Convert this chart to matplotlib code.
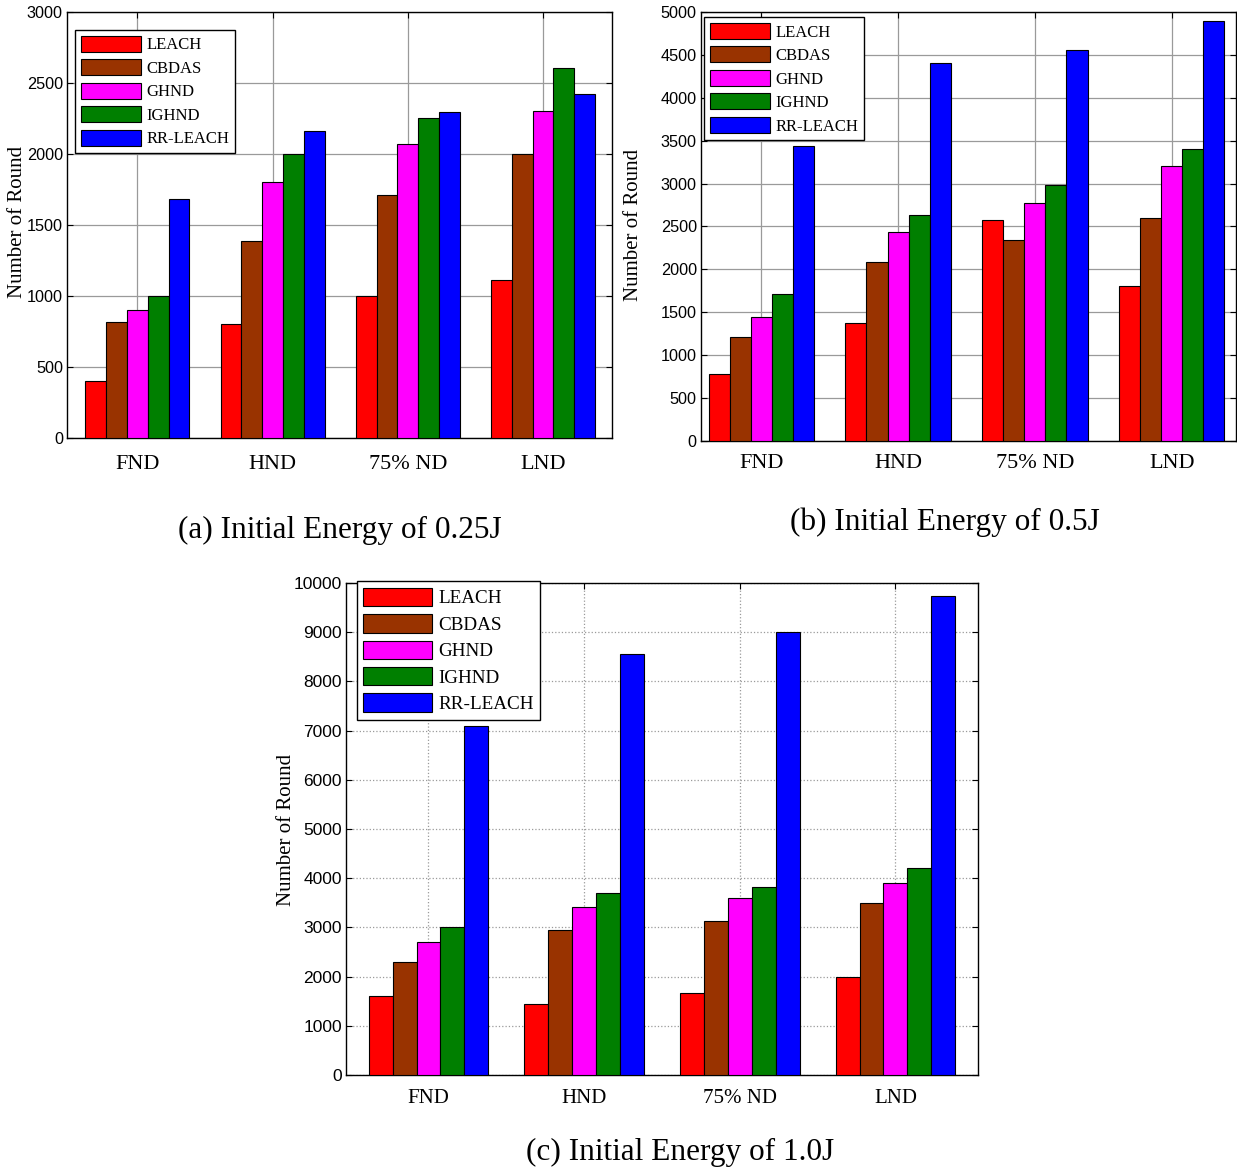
import numpy as np
import matplotlib
matplotlib.use('Agg')
import matplotlib.pyplot as plt

plt.rcParams['font.family'] = ['Liberation Serif', 'DejaVu Serif']

methods = ['LEACH', 'CBDAS', 'GHND', 'IGHND', 'RR-LEACH']
stages = ['FND', 'HND', '75% ND', 'LND']
colors = ['#ff0000', '#993300', '#ff00ff', '#007f00', '#0000ff']

# (a) initial energy 0.25J
leach_a = [400, 805, 1000, 1110]
cbdas_a = [815, 1385, 1710, 2000]
ghnd_a = [900, 1805, 2070, 2305]
ighnd_a = [1000, 2000, 2255, 2605]
rrleach_a = [1680, 2165, 2295, 2420]

# (b) initial energy 0.5J
leach_b = [785, 1375, 2575, 1810]
cbdas_b = [1210, 2090, 2340, 2600]
ghnd_b = [1445, 2440, 2775, 3200]
ighnd_b = [1710, 2630, 2980, 3400]
rrleach_b = [3435, 4400, 4560, 4900]

# (c) initial energy 1.0J
leach_c = [1600, 1450, 1660, 2000]
cbdas_c = [2300, 2950, 3130, 3500]
ghnd_c = [2700, 3420, 3600, 3910]
ighnd_c = [3000, 3700, 3820, 4200]
rrleach_c = [7100, 8560, 9000, 9740]


def draw_panel(ax, series, ymax, ystep, xlim, grid_ls, fs):
    x = np.arange(1, len(stages) + 1)
    w = 0.154
    for k, vals in enumerate(series):
        ax.bar(x + (k - 2) * w, vals, w, color=colors[k], edgecolor='black',
               linewidth=0.8, label=methods[k], zorder=3)
    ax.set_xlim(*xlim)
    ax.set_ylim(0, ymax)
    ax.set_yticks(np.arange(0, ymax + 1, ystep))
    ax.set_xticks(x)
    ax.set_xticklabels(stages, fontsize=fs['x'])
    for lab in ax.get_yticklabels():
        lab.set_family('Liberation Sans')
        lab.set_fontsize(fs['y'])
    ax.tick_params(direction='in', top=True, right=True, length=4, width=0.8)
    ax.tick_params(axis='x', pad=fs['xpad'])
    ax.tick_params(axis='y', pad=3)
    ax.grid(True, color='#9a9a9a', linestyle=grid_ls, linewidth=0.9, zorder=0)
    ax.set_axisbelow(True)
    for s in ax.spines.values():
        s.set_linewidth(1.0)
    ax.set_ylabel('Number of Round', fontsize=fs['lab'])


def add_legend(ax, anchor, size):
    ax.legend(loc='upper left', bbox_to_anchor=anchor, fontsize=size,
              fancybox=False, edgecolor='black', framealpha=1, borderaxespad=0,
              handlelength=3.6, handleheight=1.1, labelspacing=0.35,
              handletextpad=0.3, borderpad=0.35)


fig = plt.figure(figsize=(12.37, 11.72), dpi=100)

ax_a = fig.add_axes([0.0542, 0.6263, 0.4405, 0.3635])
draw_panel(ax_a, [leach_a, cbdas_a, ghnd_a, ighnd_a, rrleach_a], 3000, 500,
           (0.48, 4.51), '-', {'x': 16, 'y': 11.7, 'xpad': 12, 'lab': 15})
ax_a.yaxis.set_label_coords(-0.073, 0.507)
add_legend(ax_a, (0.015, 0.958), 12)

ax_b = fig.add_axes([0.5667, 0.6237, 0.4325, 0.3661])
draw_panel(ax_b, [leach_b, cbdas_b, ghnd_b, ighnd_b, rrleach_b], 5000, 500,
           (0.56, 4.47), '-', {'x': 16, 'y': 11.7, 'xpad': 9, 'lab': 15})
ax_b.yaxis.set_label_coords(-0.108, 0.503)
add_legend(ax_b, (0.006, 0.988), 12)

ax_c = fig.add_axes([0.2797, 0.0828, 0.5109, 0.4198])
draw_panel(ax_c, [leach_c, cbdas_c, ghnd_c, ighnd_c, rrleach_c], 10000, 1000,
           (0.47, 4.53), ':', {'x': 15, 'y': 12.5, 'xpad': 10, 'lab': 15})
ax_c.yaxis.set_label_coords(-0.079, 0.498)
add_legend(ax_c, (0.017, 1.004), 13.8)

fig.text(340 / 1237, 1 - 530 / 1172, '(a) Initial Energy of 0.25J',
         fontsize=22.5, ha='center', va='center')
fig.text(945 / 1237, 1 - 522 / 1172, '(b) Initial Energy of 0.5J',
         fontsize=22.5, ha='center', va='center')
fig.text(680 / 1237, 1 - 1152 / 1172, '(c) Initial Energy of 1.0J',
         fontsize=22.5, ha='center', va='center')

fig.savefig('out.png', dpi=100)
